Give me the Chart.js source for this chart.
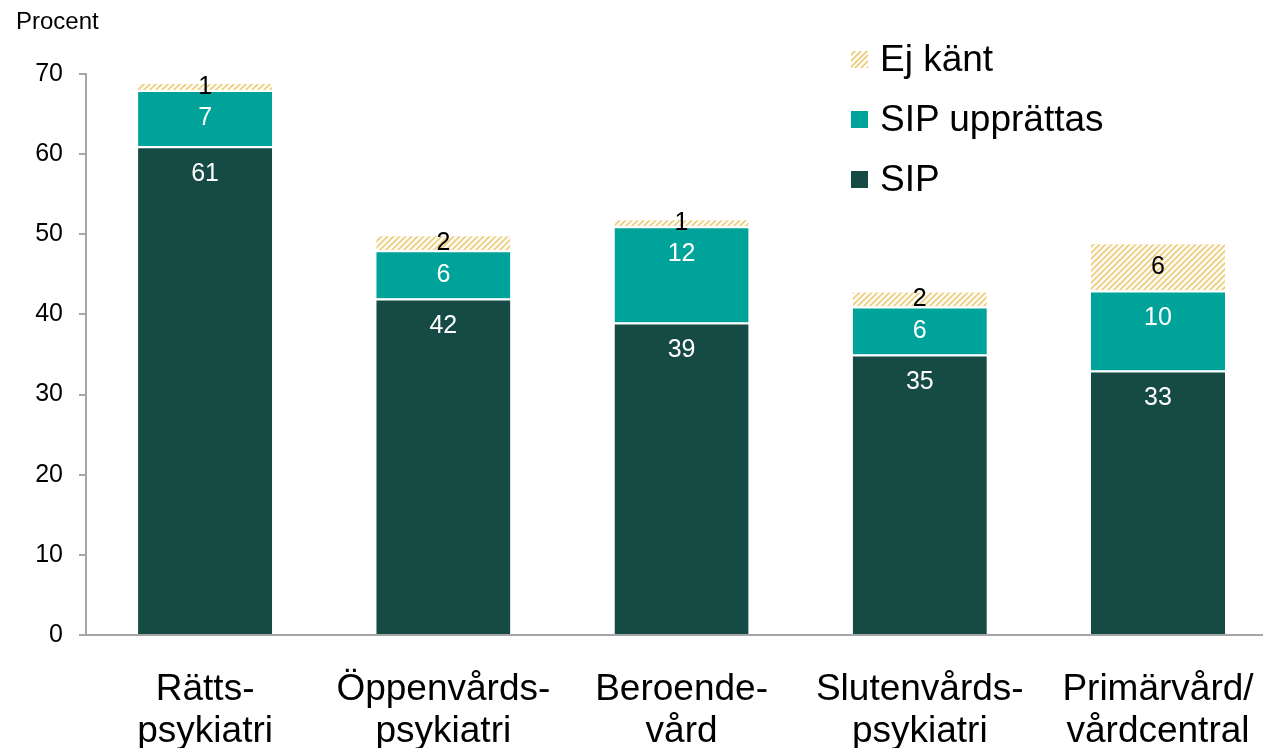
<!DOCTYPE html>
<html lang="sv">
<head>
<meta charset="utf-8">
<script src="https://cdn.jsdelivr.net/npm/chart.js@4.4.1/dist/chart.umd.min.js"></script>
<style>
  html, body { margin: 0; padding: 0; background: #fff; overflow: hidden; }
  body { width: 1263px; height: 748px; position: relative; font-family: "Liberation Sans", Arial, sans-serif; }
  #wrap { position: absolute; left: 0; top: 0; width: 1288px; height: 748px; }
  #unit { position: absolute; left: 16px; top: 7px; font-size: 24px; color: #000; }
  #legend { position: absolute; left: 851px; top: 29px; }
  .item { display: flex; align-items: center; height: 60px; font-size: 37px; color: #000; }
  .swatch { width: 17px; height: 17px; margin-right: 12px; }
</style>
</head>
<body>
<div id="wrap"><canvas id="sipChart" width="1288" height="748"></canvas></div>
<div id="unit">Procent</div>
<div id="legend"></div>
<script>
const categories = [
    ['Rätts-', 'psykiatri'],
    ['Öppenvårds-', 'psykiatri'],
    ['Beroende-', 'vård'],
    ['Slutenvårds-', 'psykiatri'],
    ['Primärvård/', 'vårdcentral']
];
const sipValues = [61, 42, 39, 35, 33];
const upprattasValues = [7, 6, 12, 6, 10];
const ejKantValues = [1, 2, 1, 2, 6];
const yTicks = [0, 10, 20, 30, 40, 50, 60, 70];

const FONT = '"Liberation Sans", Arial, sans-serif';
const COLOR_SIP = '#164b45';
const COLOR_UPP = '#00a39a';
const HATCH_FG = '#efd38a';

function makeHatch() {
    const c = document.createElement('canvas');
    c.width = 6; c.height = 6;
    const g = c.getContext('2d');
    g.fillStyle = '#fff';
    g.fillRect(0, 0, 6, 6);
    g.strokeStyle = HATCH_FG;
    g.lineWidth = 2;
    g.beginPath();
    g.moveTo(-1, 7); g.lineTo(7, -1);
    g.moveTo(-4, 4); g.lineTo(4, -4);
    g.moveTo(2, 10); g.lineTo(10, 2);
    g.stroke();
    return g.createPattern(c, 'repeat');
}

// value labels: solid segments get theirs just under the top edge,
// the hatched "Ej känt" slice gets it centred
const segmentLabels = {
    id: 'segmentLabels',
    afterDatasetsDraw(chart) {
        const ctx = chart.ctx;
        ctx.save();
        ctx.font = '25px ' + FONT;
        ctx.textAlign = 'center';
        ctx.textBaseline = 'middle';
        chart.data.datasets.forEach((ds, i) => {
            const meta = chart.getDatasetMeta(i);
            meta.data.forEach((bar, j) => {
                const v = ds.data[j];
                if (!v) return;
                const mid = (bar.y + bar.base) / 2;
                const y = ds.labelAtTop ? Math.min(mid, bar.y + 27) : mid;
                ctx.fillStyle = ds.labelColor;
                ctx.fillText(String(v), bar.x, y + 1);
            });
        });
        ctx.restore();
    }
};

const hatch = makeHatch();
const datasets = [
    { label: 'SIP', data: sipValues, backgroundColor: COLOR_SIP, labelColor: '#fff', labelAtTop: true },
    { label: 'SIP upprättas', data: upprattasValues, backgroundColor: COLOR_UPP, labelColor: '#fff', labelAtTop: true },
    { label: 'Ej känt', data: ejKantValues, backgroundColor: hatch, labelColor: '#000', labelAtTop: false }
].map((d) => Object.assign(d, {
    borderColor: '#fff',
    borderWidth: { top: 2, left: 0, right: 0, bottom: 0 },
    borderSkipped: false,
    categoryPercentage: 1,
    barPercentage: 0.563
}));

new Chart(document.getElementById('sipChart'), {
    type: 'bar',
    data: { labels: categories, datasets },
    options: {
        responsive: false,
        animation: false,
        layout: { padding: { top: 74, right: 4, left: 0, bottom: 0 } },
        plugins: { legend: { display: false }, tooltip: { enabled: false } },
        scales: {
            x: {
                stacked: true,
                grid: { display: false, drawTicks: false },
                border: { display: true, color: '#a6a6a6', width: 2 },
                ticks: {
                    color: '#000',
                    padding: 34,
                    font: { size: 37, family: FONT, lineHeight: 1.14 },
                    maxRotation: 0,
                    autoSkip: false
                },
                afterFit: (s) => { s.height = 113; }
            },
            y: {
                stacked: true,
                min: 0,
                max: 70,
                afterBuildTicks: (s) => { s.ticks = yTicks.map((v) => ({ value: v })); },
                grid: { drawOnChartArea: false, drawTicks: true, tickLength: 7, color: '#a6a6a6', lineWidth: 2 },
                border: { display: true, color: '#a6a6a6', width: 2 },
                ticks: {
                    color: '#000',
                    padding: 16,
                    font: { size: 25, family: FONT }
                },
                afterFit: (s) => { s.width = 86; }
            }
        }
    },
    plugins: [segmentLabels]
});

// legend, top entry first
const legend = document.getElementById('legend');
datasets.slice().reverse().forEach((d) => {
    const item = document.createElement('div');
    item.className = 'item';
    const sw = document.createElement('span');
    sw.className = 'swatch';
    if (d.backgroundColor === hatch) {
        sw.style.background = 'repeating-linear-gradient(-45deg, ' + HATCH_FG + ' 0 2px, #fff 2px 4px)';
    } else {
        sw.style.background = d.backgroundColor;
    }
    item.appendChild(sw);
    item.appendChild(document.createTextNode(d.label));
    legend.appendChild(item);
});
</script>
</body>
</html>
